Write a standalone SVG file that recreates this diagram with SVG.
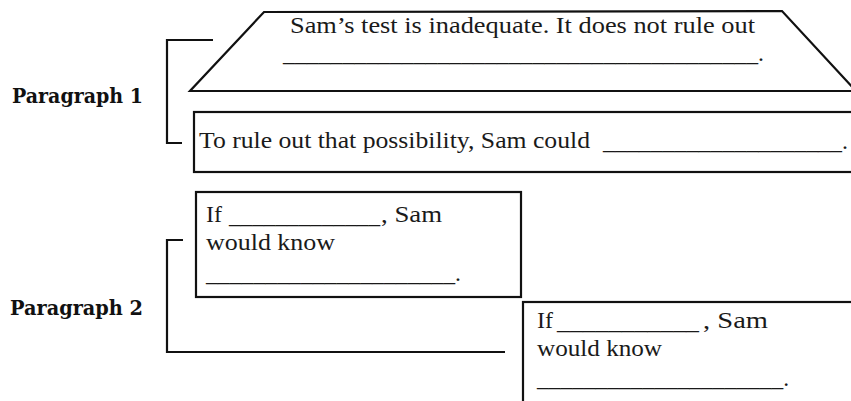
<svg xmlns="http://www.w3.org/2000/svg" width="851" height="401" viewBox="0 0 851 401">
<style>
.box{fill:#fff;stroke:#111;stroke-width:2.2}
.br{fill:none;stroke:#111;stroke-width:2.2}
.t{font-family:"Liberation Serif","Times New Roman",serif;font-size:24px;fill:#1a1a1a}
.lbl{font-family:"DejaVu Serif","Liberation Serif",serif;font-size:21px;font-weight:bold;fill:#111}
</style>
<rect width="851" height="401" fill="#fff"/>
<g id="connectors">
<polyline class="br" points="213,40 167,40 167,143 182,143"/>
<polyline class="br" points="183,240 167,240 167,352 505,352"/>
</g>
<g id="label1">
<text class="lbl" x="12" y="103" textLength="131" lengthAdjust="spacingAndGlyphs">Paragraph 1</text>
</g>
<g id="label2">
<text class="lbl" x="10" y="315" textLength="133" lengthAdjust="spacingAndGlyphs">Paragraph 2</text>
</g>
<g id="node1">
<polygon class="box" points="264,12 782,11 856,91 190,91"/>
<text class="t" x="290" y="33" textLength="465" lengthAdjust="spacingAndGlyphs">Sam’s test is inadequate. It does not rule out</text>
<text class="t" x="283" y="61" textLength="481" lengthAdjust="spacingAndGlyphs">________________________________________.</text>
</g>
<g id="node2">
<rect class="box" x="194" y="112" width="670" height="60"/>
<text class="t" x="199" y="148" textLength="391" lengthAdjust="spacingAndGlyphs">To rule out that possibility, Sam could</text>
<text class="t" x="603" y="149" textLength="245" lengthAdjust="spacingAndGlyphs">____________________.</text>
</g>
<g id="node3">
<rect class="box" x="196" y="192" width="325" height="105"/>
<text class="t" x="206" y="222">If</text>
<text class="t" x="229" y="223" textLength="151" lengthAdjust="spacingAndGlyphs">_____________</text>
<text class="t" x="381" y="222" textLength="61" lengthAdjust="spacingAndGlyphs">, Sam</text>
<text class="t" x="206" y="250" textLength="129" lengthAdjust="spacingAndGlyphs">would know</text>
<text class="t" x="206" y="281" textLength="255" lengthAdjust="spacingAndGlyphs">_____________________.</text>
</g>
<g id="node4">
<rect class="box" x="523" y="302" width="340" height="110"/>
<text class="t" x="537" y="328">If</text>
<text class="t" x="557" y="329" textLength="142" lengthAdjust="spacingAndGlyphs">___________</text>
<text class="t" x="703" y="328" textLength="65" lengthAdjust="spacingAndGlyphs">, Sam</text>
<text class="t" x="537" y="356" textLength="125" lengthAdjust="spacingAndGlyphs">would know</text>
<text class="t" x="537" y="386" textLength="252" lengthAdjust="spacingAndGlyphs">_____________________.</text>
</g>
</svg>
